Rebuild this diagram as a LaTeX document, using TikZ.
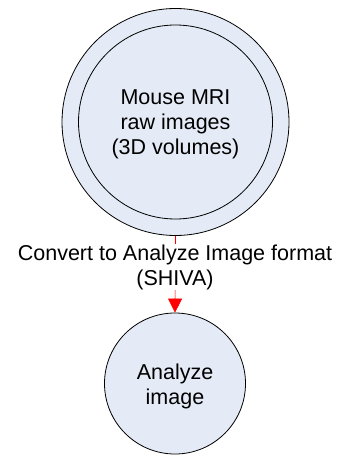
\documentclass[tikz,border=0pt]{standalone}
\usepackage{fontspec}
\setmainfont{Liberation Sans}
\usetikzlibrary{arrows.meta}
\definecolor{circfill}{HTML}{E5EBF6}
\begin{document}
\begin{tikzpicture}[x=1bp,y=-1bp,
  txt/.style={font=\fontsize{21.5bp}{25bp}\selectfont, align=center, text=black},
  circ/.style={circle, draw=black, line width=0.8bp, fill=circfill, inner sep=0pt, minimum size=#1},
  conn/.style={draw=red, line width=0.7bp, -{Triangle[length=14bp,width=14bp]}}]
\useasboundingbox (0,0) rectangle (342,455);
\node[circ=227bp] (outer) at (175.5,122) {};
\node[circ=194bp] (mri) at (175.5,122) {};
\node[txt] (mrit) at (175.5,124) {Mouse MRI\\raw images\\(3D volumes)};
\node[circ=141bp] (anl) at (175,383.5) {};
\node[txt] (anlt) at (175,386) {Analyze\\image};
\draw[conn] (outer.south) -- (anl.north);
\node[fill=white, inner sep=0pt, txt] (lbl) at (175,267) {Convert to Analyze Image format\\(SHIVA)};
\end{tikzpicture}
\end{document}
